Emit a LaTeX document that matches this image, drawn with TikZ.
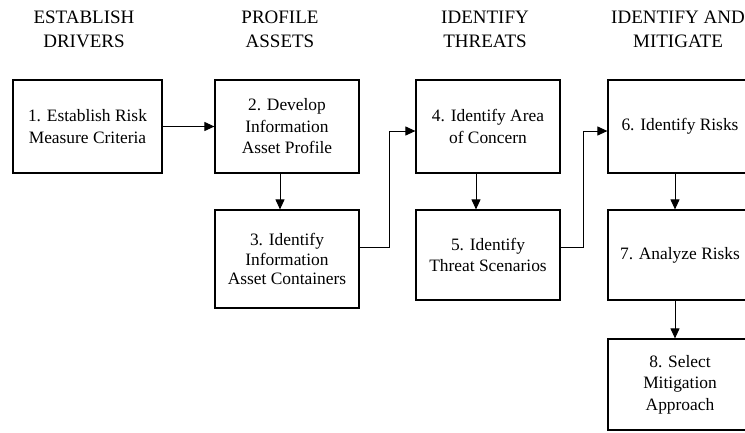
\documentclass[tikz,border=0pt]{standalone}
\usepackage{fontspec}
\setmainfont{Liberation Serif}
\usetikzlibrary{arrows.meta}
\begin{document}
\begin{tikzpicture}[x=1pt,y=-1pt,
  stagebox/.style={draw, line width=1.2pt, inner sep=0pt, align=center,
    font=\fontsize{17.4}{21.5}\selectfont},
  phase/.style={inner sep=0pt, align=center, font=\fontsize{19}{24}\selectfont},
  flow/.style={line width=1pt, -{Triangle[length=10pt,width=9pt]}}]
\useasboundingbox (0,0) rectangle (745,432);
\clip (0,0) rectangle (745,432);

% phase headings
\node[phase] (h1) at (84,29) {ESTABLISH\\DRIVERS};
\node[phase] (h2) at (280,29) {PROFILE\\ASSETS};
\node[phase] (h3) at (485,29) {IDENTIFY\\THREATS};
\node[phase] (h4) at (678,29) {IDENTIFY AND\\MITIGATE};

% process steps
\node[stagebox, minimum width=149pt, minimum height=93pt] (b1) at (87.5,126.5) {1. Establish Risk\\Measure Criteria};
\node[stagebox, minimum width=144pt, minimum height=93pt] (b2) at (287,126.5) {2. Develop\\Information\\Asset Profile};
\node[stagebox, minimum width=144pt, minimum height=98pt,
  font=\fontsize{17.4}{19.5}\selectfont] (b3) at (287,259) {3. Identify\\Information\\Asset Containers};
\node[stagebox, minimum width=144pt, minimum height=93pt] (b4) at (488,126.5) {4. Identify Area\\of Concern};
\node[stagebox, minimum width=144pt, minimum height=90pt] (b5) at (488,255) {5. Identify\\Threat Scenarios};
\node[stagebox, minimum width=144pt, minimum height=93pt] (b6) at (680,126.5) {6. Identify Risks};
\node[stagebox, minimum width=144pt, minimum height=90pt] (b7) at (680,255) {7. Analyze Risks};
\node[stagebox, minimum width=144pt, minimum height=91pt] (b8) at (680,384.5) {8. Select\\Mitigation\\Approach};

% connectors
\draw[flow] (b1.east) -- (b2.west);
\draw[flow] ([xshift=-7pt]b2.south) -- ([xshift=-7pt]b3.north);
\draw[flow] ([yshift=12pt]b3.east) -- ++(30,0) |- ([yshift=-4.5pt]b4.west);
\draw[flow] ([xshift=-12pt]b4.south) -- ([xshift=-12pt]b5.north);
\draw[flow] ([yshift=8pt]b5.east) -- ++(23,0) |- ([yshift=-4.5pt]b6.west);
\draw[flow] ([xshift=-5pt]b6.south) -- ([xshift=-5pt]b7.north);
\draw[flow] ([xshift=-5pt]b7.south) -- ([xshift=-5pt]b8.north);
\end{tikzpicture}
\end{document}
